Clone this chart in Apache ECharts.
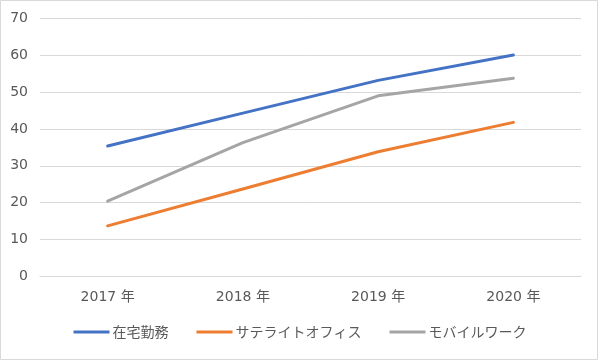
<!DOCTYPE html>
<html>
<head>
<meta charset="utf-8">
<script src="https://cdn.jsdelivr.net/npm/echarts@6/dist/echarts.min.js"></script>
<style>
html,body{margin:0;padding:0;background:#fff;}
#chart{width:600px;height:361px;}
</style>
</head>
<body>
<div id="chart"></div>
<script>
const categories = ['2017 年', '2018 年', '2019 年', '2020 年'];
const zaitaku = [35.4, 44.3, 53.2, 60.1];
const satellite = [13.7, 23.7, 33.8, 41.8];
const mobile = [20.4, 36.3, 49.0, 53.8];
const seriesNames = ['在宅勤務', 'サテライトオフィス', 'モバイルワーク'];
const yTicks = {min: 0, max: 70, interval: 10};

const FONT = '"Noto Sans CJK JP", "Noto Sans", sans-serif';
const NUMFONT = '"DejaVu Sans", "Noto Sans CJK JP", sans-serif';
const colors = ['#4472C4', '#ED7D31', '#A5A5A5'];
const chart = echarts.init(document.getElementById('chart'), null, {renderer: 'canvas'});
const mk = (name, data, c) => ({
  name, type: 'line', data, symbol: 'none', smooth: false,
  lineStyle: {color: c, width: 3, cap: 'round', join: 'round'},
  itemStyle: {color: c}
});
chart.setOption({
  animation: false,
  backgroundColor: '#fff',
  textStyle: {fontFamily: FONT},
  graphic: [{
    type: 'rect', shape: {x: 0.5, y: 0.5, width: 597, height: 359},
    style: {fill: 'none', stroke: '#d9d9d9', lineWidth: 1}, silent: true
  }],
  grid: {left: 40, right: 19, top: 18.5, bottom: 84.7, containLabel: false},
  legend: {
    bottom: 17, left: 'center',
    itemWidth: 36, itemHeight: 3, itemGap: 28,
    icon: 'rect',
    textStyle: {color: '#595959', fontSize: 14, fontFamily: FONT, padding: [0, 0, 0, -2]},
    data: seriesNames
  },
  xAxis: {
    type: 'category', data: categories, boundaryGap: true,
    axisLine: {show: true, lineStyle: {color: '#d9d9d9', width: 1}},
    axisTick: {show: false},
    axisLabel: {color: '#595959', fontSize: 14, margin: 14, fontFamily: NUMFONT}
  },
  yAxis: {
    type: 'value', min: yTicks.min, max: yTicks.max, interval: yTicks.interval,
    axisLine: {show: false}, axisTick: {show: false},
    splitLine: {lineStyle: {color: '#d9d9d9', width: 1}},
    axisLabel: {color: '#595959', fontSize: 14, margin: 12, fontFamily: NUMFONT}
  },
  series: [
    mk(seriesNames[0], zaitaku, colors[0]),
    mk(seriesNames[1], satellite, colors[1]),
    mk(seriesNames[2], mobile, colors[2])
  ]
});
</script>
</body>
</html>
